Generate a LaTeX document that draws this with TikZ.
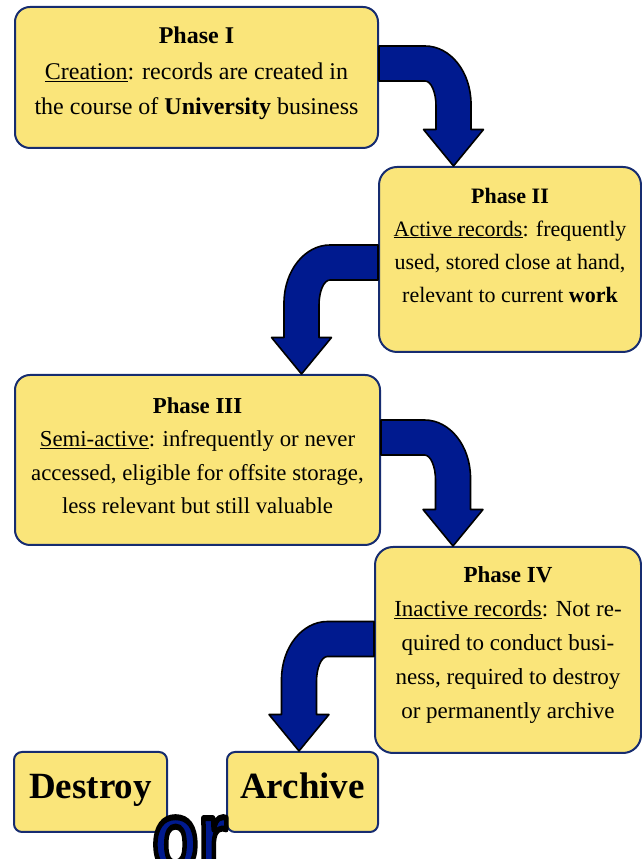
\documentclass[tikz,border=0pt]{standalone}
\usepackage{fontspec}
\setmainfont{Liberation Serif}
\newfontfamily\orfont{Liberation Sans}
\usetikzlibrary{calc}

\definecolor{boxyellow}{RGB}{250,229,122}
\definecolor{boxnavy}{RGB}{22,44,112}
\definecolor{arrowblue}{RGB}{0,26,143}

% bent block arrow: start on a box side, tip on the next box, #3 = 1 (right) or -1 (left)
\newcommand{\bendarrow}[3]{%
\filldraw[bigarrow] let \p1=(#1), \p2=(#2) in
  (\x1,\y1+17.5pt) -- ({\x2+(#3)*(17.5pt-46pt)},\y1+17.5pt)
  arc[start angle=90, end angle={90-(#3)*90}, x radius=46pt, y radius=58pt]
  -- ({\x2+(#3)*17.5pt},\y2+36.5pt) -- ({\x2+(#3)*30pt},\y2+36.5pt)
  -- (\x2,\y2) -- ({\x2-(#3)*30pt},\y2+36.5pt) -- ({\x2-(#3)*17.5pt},\y2+36.5pt)
  -- ({\x2-(#3)*17.5pt},\y1-42.5pt)
  arc[start angle={90-(#3)*90}, end angle=90, x radius=11pt, y radius=25pt]
  -- (\x1,\y1-17.5pt) -- cycle;
}
% text filled in the current colour, stroked in black
\newcommand{\outlined}[1]{\special{pdf:literal direct 0 0 0 RG 6 w 1 j 2 Tr}#1\special{pdf:literal direct 0 Tr}}

\begin{document}
\begin{tikzpicture}[x=1pt,y=1pt,
  phasebox/.style={draw=boxnavy, fill=boxyellow, line width=2pt, rounded corners=15pt},
  phasetext/.style={align=center, inner sep=0pt},
  endbox/.style={draw=boxnavy, fill=boxyellow, line width=2pt, rounded corners=8pt,
    text height=25pt, text depth=11pt, font=\fontsize{37}{40}\selectfont\bfseries},
  bigarrow/.style={fill=arrowblue, draw=black, line width=1.6pt, line join=round},
  orword/.style={font=\orfont\fontsize{100}{100}\selectfont\bfseries, anchor=base, inner sep=0pt}]
\useasboundingbox (0,0) rectangle (642,859);

% the four phases
\node[phasebox, minimum width=363pt, minimum height=141pt] (p1) at (196.5,781.5) {};
\node[phasebox, minimum width=262pt, minimum height=185pt, rounded corners=18pt] (p2) at (510,599.5) {};
\node[phasebox, minimum width=365pt, minimum height=170pt] (p3) at (197.5,399) {};
\node[phasebox, minimum width=266pt, minimum height=206pt, rounded corners=18pt] (p4) at (508,209) {};

\node[phasetext, font=\fontsize{24}{35.5}\selectfont] (t1) at ([yshift=4pt]p1.center)
  {\textbf{Phase I}\\ \underline{Creation}: records are created in\\ the course of \textbf{University} business};
\node[phasetext, font=\fontsize{22}{33}\selectfont] (t2) at ([yshift=14.5pt]p2.center)
  {\textbf{Phase II}\\ \underline{Active records}: frequently\\ used, stored close at hand,\\ relevant to current \textbf{work}};
\node[phasetext, font=\fontsize{22.8}{33.5}\selectfont] (t3) at ([yshift=4.5pt]p3.center)
  {\textbf{Phase III}\\ \underline{Semi-active}: infrequently or never\\ accessed, eligible for offsite storage,\\ less relevant but still valuable};
\node[phasetext, font=\fontsize{23}{34}\selectfont] (t4) at ([yshift=5pt]p4.center)
  {\textbf{Phase IV}\\ \underline{Inactive records}: Not re-\\ quired to conduct busi-\\ ness, required to destroy\\ or permanently archive};

% end of life
\node[endbox, minimum width=153pt, minimum height=80pt] (destroy) at (90.5,67) {Destroy};
\node[endbox, minimum width=151pt, minimum height=80pt] (archive) at (302.5,67) {Archive};

% arrows
\bendarrow{[yshift=14pt]p1.east}{[xshift=-56.5pt]p2.north}{1}
\bendarrow{[yshift=-3pt]p2.west}{[xshift=104pt]p3.north}{-1}
\bendarrow{[yshift=22.5pt]p3.east}{[xshift=-55pt]p4.north}{1}
\bendarrow{[yshift=11pt]p4.west}{[xshift=-3.5pt]archive.north}{-1}

% "or" between the two ends
\node[orword, text=arrowblue] (or) at (190,-12) {\outlined{\scalebox{0.75}[1]{or}}};

\end{tikzpicture}
\end{document}
